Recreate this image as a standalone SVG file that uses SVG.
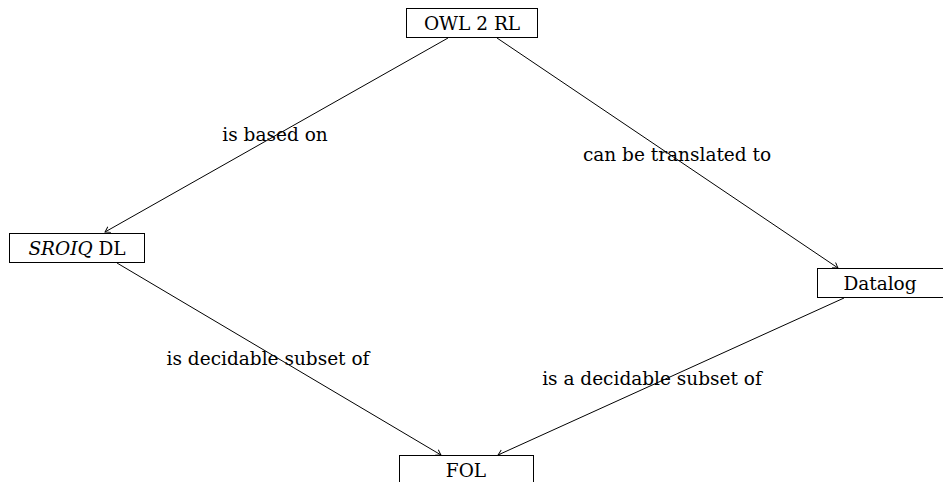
<svg xmlns="http://www.w3.org/2000/svg" width="943" height="482" viewBox="0 0 943 482">
  <defs>
    <marker id="tip" viewBox="-6 -4 8 8" refX="0" refY="0" markerWidth="8" markerHeight="8" markerUnits="userSpaceOnUse" orient="auto">
      <path d="M-5,-3.2 Q-1.5,-0.8 0,0 Q-1.5,0.8 -5,3.2" fill="none" stroke="#000" stroke-width="0.9"/>
    </marker>
  </defs>
  <style>
    .box { fill: #fff; stroke: #000; stroke-width: 1; }
    text { font-family: 'DejaVu Serif', 'Liberation Serif', serif; font-size: 18.5px; fill: #000; }
    .edge { stroke: #000; stroke-width: 1; fill: none; marker-end: url(#tip); }
    .cal { font-style: italic; }
  </style>
  <rect width="943" height="482" fill="#fff"/>

  <g id="connectors">
    <line class="edge" x1="448" y1="38" x2="105" y2="232"/>
    <line class="edge" x1="497" y1="38" x2="838" y2="268"/>
    <line class="edge" x1="117" y1="263" x2="441" y2="455"/>
    <line class="edge" x1="844" y1="298" x2="498" y2="455"/>
    <text x="275" y="141" text-anchor="middle">is based on</text>
    <text x="677" y="161" text-anchor="middle">can be translated to</text>
    <text x="268" y="365" text-anchor="middle">is decidable subset of</text>
    <text x="652" y="385" text-anchor="middle">is a decidable subset of</text>
  </g>

  <g id="owl2rl">
    <rect class="box" x="406.5" y="8.5" width="131" height="29"/>
    <text x="472" y="30" text-anchor="middle">OWL 2 RL</text>
  </g>

  <g id="sroiq">
    <rect class="box" x="9.5" y="233.5" width="135" height="29"/>
    <text x="77" y="255" text-anchor="middle"><tspan class="cal">SROIQ</tspan> DL</text>
  </g>

  <g id="datalog">
    <rect class="box" x="817.5" y="268.5" width="126" height="29"/>
    <text x="880" y="290" text-anchor="middle">Datalog</text>
  </g>

  <g id="fol">
    <rect class="box" x="399.5" y="455.5" width="134" height="29"/>
    <text x="466" y="477" text-anchor="middle">FOL</text>
  </g>
</svg>
